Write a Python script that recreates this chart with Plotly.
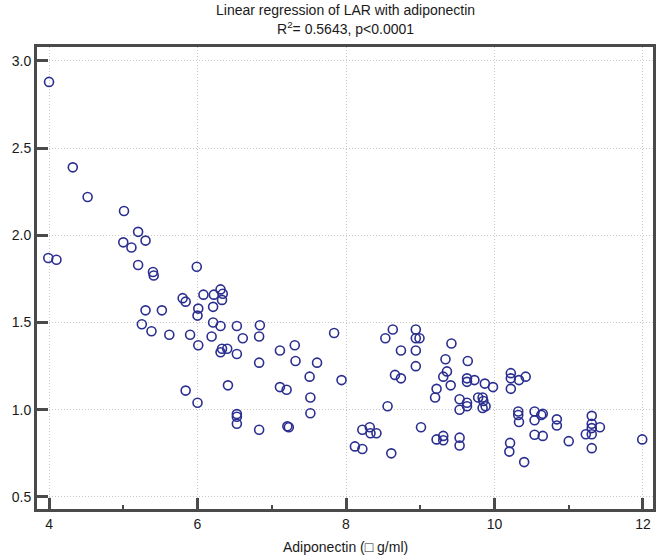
import plotly.graph_objects as go

# Adiponectin (x) and LAR (y) values
adiponectin = [
    4.00, 4.32, 4.52, 5.01, 5.20, 5.00, 5.11, 5.30, 3.99, 4.10,
    5.20, 5.40, 5.41, 5.99, 5.80, 5.84, 6.08, 6.22, 6.31, 6.34,
    6.33, 5.30, 5.52, 6.01, 6.00, 6.21, 5.25, 5.38, 5.62, 5.90,
    6.21, 6.31, 6.19, 6.01, 6.53, 6.84, 6.83, 6.61, 6.33, 6.31,
    6.40, 6.53, 6.83, 7.11, 7.31, 7.32, 7.61, 7.84, 7.51, 7.94,
    5.84, 6.41, 7.11, 7.20, 7.52, 6.00, 6.53, 6.53, 6.53, 7.52,
    6.83, 7.21, 7.23, 8.22, 8.32, 8.33, 8.41, 8.12, 8.22, 8.53,
    8.63, 8.94, 8.94, 8.99, 8.74, 8.94, 8.94, 9.42, 9.34, 9.64,
    9.36, 9.31, 9.41, 9.22, 9.20, 8.66, 8.74, 9.63, 9.63, 9.73,
    9.87, 9.98, 9.53, 9.53, 9.63, 9.63, 9.78, 9.84, 9.85, 9.88,
    9.84, 8.56, 9.01, 9.22, 9.31, 9.31, 9.53, 9.53, 8.61, 10.22,
    10.22, 10.33, 10.42, 10.22, 10.32, 10.32, 10.33, 10.54, 10.54, 10.63,
    10.65, 10.54, 10.65, 10.21, 10.20, 10.40, 10.84, 10.84, 11.00, 11.31,
    11.31, 11.31, 11.42, 11.23, 11.31, 11.31, 11.99,
]
lar = [
    2.88, 2.39, 2.22, 2.14, 2.02, 1.96, 1.93, 1.97, 1.87, 1.86,
    1.83, 1.79, 1.77, 1.82, 1.64, 1.62, 1.66, 1.66, 1.69, 1.665,
    1.63, 1.57, 1.57, 1.58, 1.54, 1.59, 1.49, 1.45, 1.43, 1.43,
    1.50, 1.48, 1.42, 1.37, 1.48, 1.485, 1.42, 1.41, 1.35, 1.33,
    1.35, 1.32, 1.27, 1.34, 1.37, 1.28, 1.27, 1.44, 1.19, 1.17,
    1.11, 1.14, 1.13, 1.115, 1.07, 1.04, 0.975, 0.96, 0.92, 0.98,
    0.885, 0.905, 0.90, 0.885, 0.90, 0.865, 0.865, 0.79, 0.775, 1.41,
    1.46, 1.46, 1.41, 1.41, 1.34, 1.34, 1.25, 1.38, 1.29, 1.28,
    1.22, 1.19, 1.14, 1.12, 1.07, 1.20, 1.18, 1.18, 1.16, 1.17,
    1.15, 1.13, 1.06, 1.00, 1.04, 1.02, 1.07, 1.07, 1.05, 1.02,
    1.01, 1.02, 0.90, 0.83, 0.85, 0.825, 0.84, 0.795, 0.75, 1.21,
    1.18, 1.17, 1.19, 1.12, 0.99, 0.97, 0.93, 0.99, 0.94, 0.97,
    0.977, 0.857, 0.85, 0.81, 0.76, 0.70, 0.945, 0.91, 0.82, 0.965,
    0.92, 0.895, 0.90, 0.86, 0.86, 0.78, 0.83,
]

x_ticks = [4, 6, 8, 10, 12]
y_ticks = [0.5, 1.0, 1.5, 2.0, 2.5, 3.0]

title_line1 = "Linear regression of LAR with adiponectin"
title_line2 = "R<sup>2</sup>= 0.5643, p&lt;0.0001"
x_title = "Adiponectin (\u25a1 g/ml)"

FONT = "Liberation Sans, Arial, sans-serif"
AXC = "#4a4a4a"
GRID = "#c8c8c8"

fig = go.Figure()
fig.add_trace(go.Scatter(
    x=adiponectin, y=lar, mode="markers",
    marker=dict(symbol="circle-open", size=9, color="#2b2f8f",
                line=dict(width=1.6, color="#2b2f8f")),
    showlegend=False, hoverinfo="skip",
))

fig.update_layout(
    width=672, height=560,
    margin=dict(l=37, r=19, t=47, b=51),
    paper_bgcolor="white", plot_bgcolor="white",
    font=dict(family=FONT, size=14, color="#1a1a1a"),
    showlegend=False,
)

fig.update_xaxes(
    range=[3.838, 12.135], tickvals=x_ticks, ticktext=[str(v) for v in x_ticks],
    ticks="inside", ticklen=11, tickwidth=3, tickcolor=AXC,
    showline=True, linewidth=3, linecolor=AXC, mirror=True,
    showgrid=True, gridcolor=GRID, gridwidth=1, griddash="1px,2px",
    zeroline=False, ticklabelstandoff=0,
    minor=dict(ticks="inside", ticklen=4, tickwidth=2, tickcolor=AXC,
               dtick=1, tick0=0, showgrid=False),
)
fig.update_yaxes(
    range=[0.431, 3.08], tickvals=y_ticks, ticktext=[f"{v:.1f}" for v in y_ticks],
    ticks="inside", ticklen=11, tickwidth=3, tickcolor=AXC,
    showline=True, linewidth=3, linecolor=AXC, mirror=True,
    showgrid=True, gridcolor=GRID, gridwidth=1, griddash="1px,2px",
    zeroline=False,
)

fig.add_annotation(text=title_line1, xref="paper", yref="paper", x=0.5, y=1,
                   xanchor="center", yanchor="middle", yshift=37, showarrow=False,
                   font=dict(family=FONT, size=14, color="#1a1a1a"))
fig.add_annotation(text=title_line2, xref="paper", yref="paper", x=0.5, y=1,
                   xanchor="center", yanchor="middle", yshift=19, showarrow=False,
                   font=dict(family=FONT, size=14, color="#1a1a1a"))
fig.add_annotation(text=x_title, xref="paper", yref="paper", x=0.5, y=0,
                   xanchor="center", yanchor="middle", yshift=-38, showarrow=False,
                   font=dict(family=FONT, size=14, color="#1a1a1a"))

fig.write_html("out.html", config={"displayModeBar": False},
               post_script="document.body.style.margin='0';")
